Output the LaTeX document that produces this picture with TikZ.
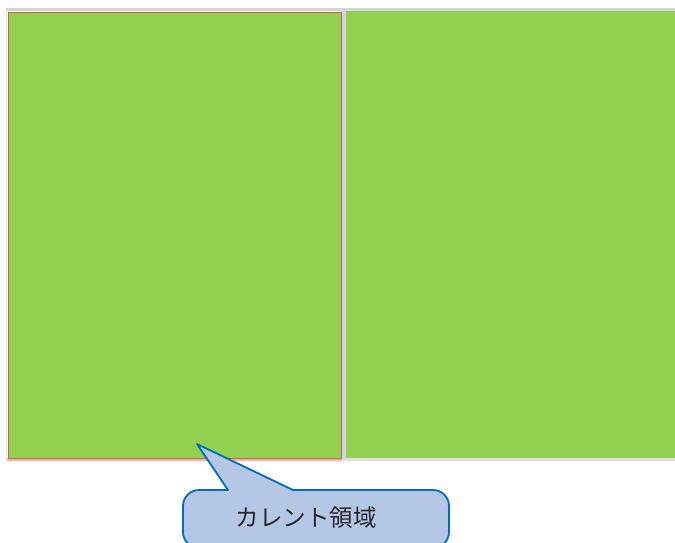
\documentclass[tikz,border=0pt]{standalone}
\usepackage{fontspec}
\newfontfamily\cjk{Noto Sans CJK JP}
\definecolor{panelgreen}{RGB}{146,208,80}
\definecolor{borderred}{RGB}{218,92,62}
\definecolor{gapgray}{RGB}{206,210,236}
\definecolor{linegray}{RGB}{212,212,212}
\definecolor{calloutfill}{RGB}{180,199,231}
\definecolor{calloutdraw}{RGB}{0,108,190}
\tikzset{
  px/.style={x=1pt,y=-1pt},
  panel/.style={fill=panelgreen,draw=none},
  callout/.style={fill=calloutfill,draw=calloutdraw,line width=1.8pt,line join=round},
  label/.style={font=\cjk\fontsize{23.5}{26}\selectfont,text=black!85,inner sep=0pt}
}
\begin{document}
\begin{tikzpicture}[px]
\useasboundingbox (0,0) rectangle (675,543);
% top gray line and left edge
\fill[linegray] (6,8.5) rectangle (675,11.5);
\fill[gapgray!60] (5.5,11) rectangle (7,460);
% gap between panels
\fill[gapgray] (341,11) rectangle (345.5,460);
% bottom shadow lines
\fill[borderred!45] (7,458) rectangle (342,460.5);
\fill[linegray!70] (345,458) rectangle (675,460.5);
% left panel (current region)
\node[panel,draw=borderred,line width=1.4pt,minimum width=333pt,minimum height=446pt,inner sep=0pt,anchor=north west] (left) at (7.6,11.6) {};
% right panel
\node[panel,minimum width=330pt,minimum height=447pt,inner sep=0pt,anchor=north west] (right) at (345.5,11) {};
% callout
\coordinate (tip) at (197,444);
\draw[callout] (228,490) -- (tip) -- (293,490) [rounded corners=16pt] -- (449,490) -- (449,548) -- (183,548) -- (183,490) [sharp corners] -- cycle;
\node[label] (txt) at (306,518) {カレント領域};
\end{tikzpicture}
\end{document}
